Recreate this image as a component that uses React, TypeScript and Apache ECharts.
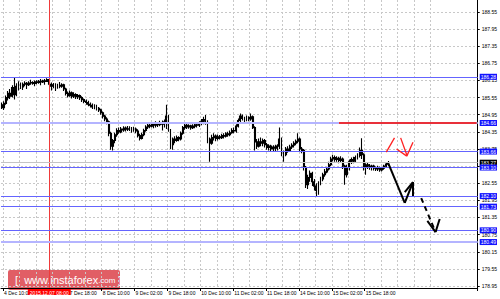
import React, { useEffect, useRef } from "react";
import * as echarts from "echarts";

// ---- data ----
const startTimeUTC = Date.UTC(2015, 11, 4, 9); // first H1 bar: 4 Dec 09:00
const slotCount = 232; // bars + empty chart shift on the right

const timeLabels = [
  "4 Dec 10:00", "7 Dec 18:00", "8 Dec 10:00", "9 Dec 02:00", "9 Dec 18:00",
  "10 Dec 10:00", "11 Dec 02:00", "11 Dec 18:00", "14 Dec 10:00", "15 Dec 02:00", "15 Dec 18:00",
];
const gridTimes = [
  "4 Dec 10:00", "4 Dec 18:00", "7 Dec 02:00", "7 Dec 10:00", "7 Dec 18:00", "8 Dec 02:00", "8 Dec 10:00",
  "8 Dec 18:00", "9 Dec 02:00", "9 Dec 10:00", "9 Dec 18:00", "10 Dec 02:00", "10 Dec 10:00", "10 Dec 18:00",
  "11 Dec 02:00", "11 Dec 10:00", "11 Dec 18:00", "14 Dec 02:00", "14 Dec 10:00", "14 Dec 18:00",
  "15 Dec 02:00", "15 Dec 10:00", "15 Dec 18:00", "16 Dec 02:00", "16 Dec 10:00", "16 Dec 18:00",
  "17 Dec 02:00",
];

const crosshairTime = "7 Dec 08:00";
const crosshairLabel = "2015.12.07 08:00";

const yTickValues = [
  178.95, 179.55, 180.15, 180.75, 181.35, 181.95, 182.55, 183.15, 183.75,
  184.35, 184.95, 185.55, 186.15, 186.75, 187.35, 187.95, 188.55,
];

const levelPrices = [186.28, 184.66, 183.66, 183.10, 182.10, 181.73, 180.90, 180.49];
const strongLevels = [184.66, 180.49];
const bidPrice = 183.27;
const resistanceSegment = [[164, 184.66], [231, 184.66]];

// forecast drawings: [bar index, price]
const forecastSolid = [[188, 183.25], [196, 181.86], [200, 182.59]];
const forecastSolidHeadA = [[196, 182.24], [200, 182.59]];
const forecastSolidHeadB = [[200, 182.59], [200, 182.1]];
const forecastDashed = [[204, 182.03], [211, 180.84]];
const forecastDashedHeadA = [[207, 181.23], [211, 180.84]];
const forecastDashedHeadB = [[213, 181.3], [211, 180.84]];
const redStrokeA = [[187, 183.64], [191, 184.14]];
const redStrokeB = [[194, 184.14], [197, 183.54]];
const redHeadA = [[192, 183.75], [197, 183.5]];
const redHeadB = [[200, 183.99], [197, 183.5]];

// H1 bars: [open, close, low, high]
const candles = [
  [185.30, 185.20, 185.15, 185.38], [185.20, 185.35, 185.12, 185.42], [185.35, 185.55, 185.30, 185.62], [185.55, 185.70, 185.45, 185.78],
  [185.70, 185.60, 185.50, 185.85], [185.60, 185.90, 185.55, 185.98], [185.90, 185.65, 185.48, 186.24], [185.65, 185.95, 185.60, 186.05],
  [185.95, 186.00, 185.80, 186.12], [186.00, 185.92, 185.85, 186.08], [185.92, 186.02, 185.82, 186.08], [186.02, 186.05, 185.95, 186.12],
  [186.05, 186.00, 185.85, 186.10], [186.00, 186.06, 185.96, 186.12], [186.06, 186.08, 186.00, 186.18], [186.08, 186.05, 186.00, 186.12],
  [186.05, 186.10, 185.95, 186.15], [186.10, 186.08, 186.02, 186.16], [186.08, 186.12, 186.04, 186.17], [186.12, 186.10, 185.98, 186.20],
  [186.10, 186.14, 186.06, 186.18], [186.14, 186.12, 186.00, 186.20], [186.12, 186.18, 186.10, 186.23], [186.18, 186.02, 185.95, 186.24],
  [186.02, 185.95, 185.80, 186.08], [185.95, 186.00, 185.88, 186.06], [186.00, 185.92, 185.78, 186.05], [185.92, 185.98, 185.86, 186.04],
  [185.98, 185.95, 185.88, 186.10], [185.95, 186.00, 185.90, 186.05], [186.00, 185.85, 185.78, 186.04], [185.85, 185.70, 185.62, 185.90],
  [185.70, 185.62, 185.55, 185.76], [185.62, 185.72, 185.58, 185.80], [185.72, 185.60, 185.52, 185.76], [185.60, 185.66, 185.54, 185.74],
  [185.66, 185.58, 185.50, 185.70], [185.58, 185.62, 185.50, 185.68], [185.62, 185.55, 185.47, 185.66], [185.55, 185.48, 185.40, 185.60],
  [185.48, 185.42, 185.35, 185.52], [185.42, 185.38, 185.30, 185.48], [185.38, 185.32, 185.25, 185.44], [185.32, 185.28, 185.20, 185.38],
  [185.28, 185.22, 185.15, 185.34], [185.22, 185.26, 185.14, 185.32], [185.26, 185.18, 185.10, 185.30], [185.18, 185.12, 185.05, 185.22],
  [185.12, 185.02, 184.95, 185.16], [185.02, 184.90, 184.82, 185.06], [184.90, 184.80, 184.72, 184.95], [184.80, 184.70, 184.62, 184.86],
  [184.70, 184.30, 184.20, 184.75], [184.30, 183.85, 183.72, 184.35], [183.85, 184.05, 183.70, 184.10], [184.05, 184.25, 183.95, 184.32],
  [184.25, 184.40, 184.18, 184.48], [184.40, 184.35, 184.28, 184.50], [184.35, 184.45, 184.30, 184.52], [184.45, 184.42, 184.35, 184.55],
  [184.42, 184.48, 184.36, 184.54], [184.48, 184.44, 184.38, 184.56], [184.44, 184.46, 184.38, 184.55], [184.46, 184.40, 184.32, 184.52],
  [184.40, 184.45, 184.35, 184.53], [184.45, 184.38, 184.30, 184.50], [184.38, 184.22, 184.15, 184.44], [184.22, 184.12, 184.05, 184.28],
  [184.12, 184.25, 184.08, 184.32], [184.25, 184.40, 184.20, 184.46], [184.40, 184.52, 184.35, 184.58], [184.52, 184.58, 184.45, 184.64],
  [184.58, 184.55, 184.48, 184.66], [184.55, 184.62, 184.50, 184.68], [184.62, 184.58, 184.48, 184.70], [184.58, 184.65, 184.50, 184.72],
  [184.65, 184.60, 184.52, 184.70], [184.60, 184.68, 184.55, 184.74], [184.68, 184.62, 184.40, 184.75], [184.62, 184.70, 184.50, 184.78],
  [184.70, 184.90, 184.45, 185.30], [184.90, 184.40, 184.35, 184.95], [184.40, 183.90, 183.75, 184.45], [183.90, 184.10, 183.72, 184.15],
  [184.10, 184.05, 183.95, 184.20], [184.05, 184.15, 184.00, 184.22], [184.15, 184.10, 184.02, 184.20], [184.10, 184.30, 184.05, 184.36],
  [184.30, 184.50, 184.25, 184.56], [184.50, 184.58, 184.42, 184.66], [184.58, 184.52, 184.45, 184.64], [184.52, 184.56, 184.46, 184.62],
  [184.56, 184.50, 184.42, 184.60], [184.50, 184.55, 184.45, 184.62], [184.55, 184.60, 184.48, 184.66], [184.60, 184.58, 184.50, 184.66],
  [184.58, 184.65, 184.52, 184.72], [184.65, 184.70, 184.58, 184.80], [184.70, 184.78, 184.62, 184.88], [184.78, 184.72, 184.60, 184.94],
  [184.72, 184.10, 183.95, 184.76], [184.10, 183.95, 183.30, 184.15], [183.95, 184.15, 183.90, 184.25], [184.15, 184.20, 184.05, 184.30],
  [184.20, 184.12, 184.02, 184.26], [184.12, 184.18, 184.05, 184.26], [184.18, 184.15, 184.08, 184.24], [184.15, 184.22, 184.10, 184.28],
  [184.22, 184.20, 184.12, 184.30], [184.20, 184.28, 184.15, 184.34], [184.28, 184.25, 184.18, 184.35], [184.25, 184.32, 184.20, 184.40],
  [184.32, 184.40, 184.28, 184.48], [184.40, 184.38, 184.30, 184.50], [184.38, 184.55, 184.32, 184.62], [184.55, 184.75, 184.50, 184.82],
  [184.75, 184.90, 184.70, 184.99], [184.90, 184.82, 184.75, 184.96], [184.82, 184.78, 184.70, 184.88], [184.78, 184.85, 184.72, 184.92],
  [184.85, 184.80, 184.72, 184.90], [184.80, 184.88, 184.74, 184.99], [184.88, 184.50, 184.45, 184.92], [184.50, 184.00, 183.70, 184.55],
  [184.00, 183.85, 183.75, 184.10], [183.85, 184.00, 183.80, 184.12], [184.00, 183.95, 183.85, 184.15], [183.95, 184.05, 183.85, 184.12],
  [184.05, 183.90, 183.80, 184.10], [183.90, 183.80, 183.72, 183.96], [183.80, 183.85, 183.70, 183.92], [183.85, 183.75, 183.65, 183.90],
  [183.75, 183.82, 183.68, 183.88], [183.82, 183.78, 183.66, 183.90], [183.78, 183.85, 183.70, 183.92], [183.85, 184.10, 183.75, 184.50],
  [184.10, 183.60, 183.50, 184.15], [183.60, 183.55, 183.30, 183.70], [183.55, 183.75, 183.50, 183.82], [183.75, 183.70, 183.62, 183.85],
  [183.70, 183.82, 183.65, 183.90], [183.82, 183.88, 183.75, 183.95], [183.88, 183.95, 183.80, 184.02], [183.95, 184.02, 183.88, 184.08],
  [184.02, 184.10, 183.95, 184.30], [184.10, 183.75, 183.65, 184.15], [183.75, 183.70, 183.60, 183.82], [183.70, 183.10, 183.00, 183.75],
  [183.10, 182.50, 182.38, 183.15], [182.50, 182.75, 182.35, 182.85], [182.75, 182.90, 182.60, 183.00], [182.90, 182.60, 182.45, 182.95],
  [182.60, 182.45, 182.30, 182.70], [182.45, 182.30, 182.07, 182.55], [182.30, 182.55, 182.15, 182.62], [182.55, 182.70, 182.48, 182.78],
  [182.70, 182.85, 182.62, 182.92], [182.85, 182.95, 182.78, 183.05], [182.95, 183.05, 182.90, 183.12], [183.05, 183.20, 183.00, 183.30],
  [183.20, 183.40, 183.15, 183.48], [183.40, 183.45, 183.32, 183.55], [183.45, 183.38, 183.30, 183.52], [183.38, 183.42, 183.30, 183.50],
  [183.42, 183.35, 183.25, 183.48], [183.35, 183.40, 183.28, 183.50], [183.40, 183.15, 183.05, 183.45], [183.15, 182.85, 182.50, 183.20],
  [182.85, 183.10, 182.75, 183.20], [183.10, 183.30, 183.00, 183.38], [183.30, 183.38, 183.22, 183.45], [183.38, 183.32, 183.25, 183.48],
  [183.32, 183.45, 183.28, 183.52], [183.45, 183.52, 183.38, 183.60], [183.52, 183.70, 183.45, 183.80], [183.70, 183.55, 183.40, 184.13],
  [183.55, 183.10, 183.00, 183.60], [183.10, 183.20, 182.85, 183.25], [183.20, 183.15, 183.05, 183.28], [183.15, 183.10, 183.02, 183.22],
  [183.10, 183.15, 183.00, 183.20], [183.15, 183.08, 183.00, 183.20], [183.08, 183.05, 182.98, 183.14], [183.05, 183.10, 182.98, 183.16],
  [183.10, 183.02, 182.95, 183.14], [183.02, 183.08, 182.96, 183.12], [183.08, 183.15, 183.02, 183.20], [183.15, 183.22, 183.08, 183.28],
  [183.22, 183.27, 183.15, 183.33],
];

// ---- helpers ----
function buildCategories(): string[] {
  const out: string[] = [];
  let t = startTimeUTC;
  while (out.length < slotCount) {
    const d = new Date(t);
    const wd = d.getUTCDay();
    if (wd !== 0 && wd !== 6) {
      out.push(`${d.getUTCDate()} Dec ${String(d.getUTCHours()).padStart(2, "0")}:00`);
    }
    t += 3600000;
  }
  return out;
}

const FONT = "Liberation Sans";

function segments(points: number[][], lineStyle: any) {
  const out: any[] = [];
  for (let k = 0; k < points.length - 1; k++) {
    out.push([
      { coord: points[k], lineStyle, label: { show: false } },
      { coord: points[k + 1] },
    ]);
  }
  return out;
}

export default function App() {
  const ref = useRef<HTMLDivElement>(null);

  useEffect(() => {
    if (!ref.current) return;
    const chart = echarts.init(ref.current, null, { renderer: "svg" });
    const categories = buildCategories();
    const labelSet = new Set(timeLabels);
    const gridSet = new Set(gridTimes);

    const boxLabel = (text: string, bg: string) => ({
      show: true,
      position: "end",
      formatter: text,
      backgroundColor: bg,
      color: "#fff",
      fontSize: 5,
      fontFamily: FONT,
      padding: [1, 1, 0, 1],
      distance: 2,
    });

    const levelItems = levelPrices.map((p) => {
      const strong = strongLevels.includes(p);
      return {
        yAxis: p,
        lineStyle: { color: strong ? "#b4b4ff" : "#6464ff", width: strong ? 2 : 1, type: "solid", opacity: 1 },
        label: boxLabel(p.toFixed(2), "#1212ff"),
      };
    });

    const blackSolid = { color: "#000", width: 2, type: "solid" };
    const blackDashed = { color: "#000", width: 2, type: [5, 4] };
    const red = { color: "#ff2020", width: 1.3, type: "solid" };

    const option: any = {
      animation: false,
      backgroundColor: "#ffffff",
      grid: { left: 1, right: 21, top: 0, bottom: 11 },
      xAxis: {
        type: "category",
        data: categories,
        boundaryGap: true,
        axisLine: { show: true, lineStyle: { color: "#000", width: 1 } },
        axisTick: {
          show: true,
          length: 3,
          interval: (_i: number, v: string) => labelSet.has(v),
          lineStyle: { color: "#000" },
        },
        axisLabel: {
          interval: (_i: number, v: string) => labelSet.has(v),
          fontSize: 5,
          fontFamily: FONT,
          color: "#000",
          align: "left",
          margin: 2,
        },
        splitLine: {
          show: true,
          interval: (_i: number, v: string) => gridSet.has(v),
          lineStyle: { color: "#c8c8c8", type: [2, 2], width: 1 },
        },
      },
      yAxis: {
        type: "value",
        position: "right",
        min: 178.88,
        max: 188.97,
        axisLine: { show: true, lineStyle: { color: "#000", width: 1 } },
        axisTick: { show: true, length: 2, customValues: yTickValues, lineStyle: { color: "#000" } },
        axisLabel: {
          customValues: yTickValues,
          formatter: (v: number) => v.toFixed(2),
          fontSize: 5,
          fontFamily: FONT,
          color: "#000",
          margin: 4,
        },
        splitLine: { show: true, lineStyle: { color: "#c8c8c8", type: [2, 2], width: 1 } },
      },
      series: [
        {
          type: "candlestick",
          data: candles,
          barWidth: 1.4,
          itemStyle: {
            color: "#000",
            color0: "#000",
            borderColor: "#000",
            borderColor0: "#000",
            borderWidth: 1.1,
          },
          markLine: {
            silent: true,
            symbol: "none",
            animation: false,
            label: { show: false },
            emphasis: { disabled: true },
            data: [
              {
                xAxis: crosshairTime,
                lineStyle: { color: "#f03a3a", width: 1, type: "solid" },
                label: {
                  show: true,
                  position: "start",
                  formatter: crosshairLabel,
                  backgroundColor: "#ff0000",
                  color: "#fff",
                  fontSize: 5,
                  fontFamily: FONT,
                  padding: [1, 2, 0, 2],
                  distance: 1,
                },
              },
              {
                yAxis: bidPrice,
                lineStyle: { color: "#c4c4c4", width: 1, type: "solid" },
                label: boxLabel(bidPrice.toFixed(2), "#000"),
              },
              ...levelItems,
              ...segments(resistanceSegment, { color: "#e8303a", width: 2, type: "solid" }),
              ...segments(forecastSolid, blackSolid),
              ...segments(forecastSolidHeadA, blackSolid),
              ...segments(forecastSolidHeadB, blackSolid),
              ...segments(forecastDashed, blackDashed),
              ...segments(forecastDashedHeadA, blackSolid),
              ...segments(forecastDashedHeadB, blackSolid),
              ...segments(redStrokeA, red),
              ...segments(redStrokeB, red),
              ...segments(redHeadA, red),
              ...segments(redHeadB, red),
            ],
          },
        },
      ],
      graphic: [
        {
          type: "group",
          left: 8,
          top: 270,
          silent: true,
          z: 100,
          children: [
            {
              type: "rect",
              shape: { x: 0, y: 0, width: 112, height: 20, r: 2 },
              style: { fill: "rgba(215,40,50,0.75)" },
            },
            {
              type: "text",
              x: 7,
              y: 10,
              style: {
                text: "{a|[  www.instaforex}{b|.com}{a| ]}",
                verticalAlign: "middle",
                rich: {
                  a: { fontSize: 11, fontFamily: FONT, fill: "#fff", color: "#fff" },
                  b: { fontSize: 8, fontFamily: FONT, fill: "#fff", color: "#fff" },
                },
              },
            },
          ],
        },
      ],
    };

    chart.setOption(option);
    return () => chart.dispose();
  }, []);

  return (
    <div
      ref={ref}
      style={{ position: "absolute", left: 0, top: 0, width: 500, height: 299, background: "#fff" }}
    />
  );
}
